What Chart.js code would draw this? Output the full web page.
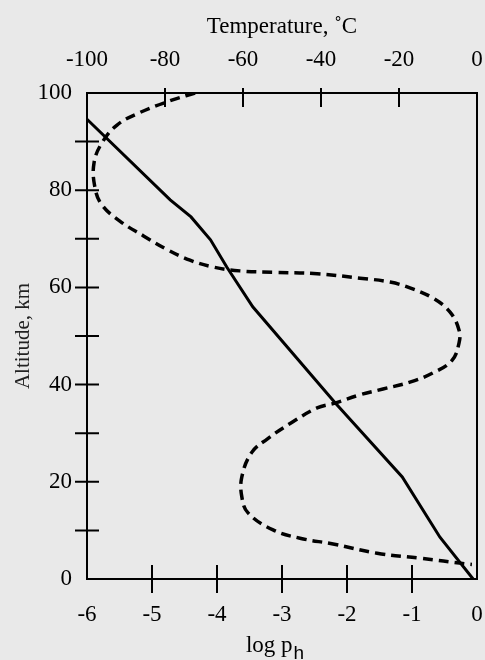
<!DOCTYPE html>
<html>
<head>
<meta charset="utf-8">
<script src="https://cdn.jsdelivr.net/npm/chart.js@4/dist/chart.umd.min.js"></script>
<style>
  html, body { margin: 0; padding: 0; background: #e9e9e9; }
  #wrap { width: 485px; height: 660px; }
</style>
</head>
<body>
<div id="wrap"><canvas id="c" width="485" height="660"></canvas></div>
<script>
// log p_h (bottom axis) vs altitude (km)
const logPh = [-6, -4.72, -4.4, -4.1, -3.85, -3.45, -2.18, -1.15, -0.57, -0.06];
const logPhAlt = [94.6, 78, 74.5, 69.8, 64.2, 56, 36.2, 21, 8.6, 0];

// temperature (top axis, °C) vs altitude (km)
const temperature = [-72.3, -78.7, -86.4, -92.3, -96.2, -98.2, -98.0, -96.2, -91.5, -85.5, -79.5, -73.6, -67.7, -60.8, -52, -41, -30, -22.3, -17.2, -11.3, -6.9, -4.6, -4.6, -6.4, -11.3, -17.2, -24.1, -30, -36.4, -41, -47.5, -53.8, -57.8, -60.3, -60.3, -58.7, -52.3, -45.4, -36.9, -25.6, -14.6, -2.6, -1.3];
const temperatureAlt = [100, 98.4, 96, 93.4, 89.7, 85.6, 80.7, 77, 73.6, 70.6, 67.8, 65.6, 64.2, 63.4, 63.1, 62.8, 61.9, 61.1, 59.9, 57.8, 54.9, 51.2, 48.6, 45, 42.4, 40.5, 39.1, 37.9, 36.2, 35.2, 32.2, 28.8, 26, 21, 16.9, 13.6, 10.1, 8.4, 7.2, 5.3, 4.3, 3.1, 3.0];

const logTicks = [-6, -5, -4, -3, -2, -1, 0];
const tempTicks = [-100, -80, -60, -40, -20, 0];
const altTicks = [0, 10, 20, 30, 40, 50, 60, 70, 80, 90, 100];
const altLabelled = [0, 20, 40, 60, 80, 100];

const FONT = "'Liberation Serif', 'Times New Roman', serif";

const solidData = logPh.map((v, i) => ({ x: v, y: logPhAlt[i] }));
const dashData = temperature.map((v, i) => ({ x: v, y: temperatureAlt[i] }));

const bgPlugin = {
  id: 'bg',
  beforeDraw(chart) {
    const ctx = chart.ctx;
    ctx.save();
    ctx.fillStyle = '#e9e9e9';
    ctx.fillRect(0, 0, chart.width, chart.height);
    ctx.restore();
  }
};

const framePlugin = {
  id: 'frame',
  afterDatasetsDraw(chart) {
    const { ctx, chartArea: a, scales } = chart;
    ctx.save();
    ctx.strokeStyle = '#000';
    ctx.lineWidth = 2;
    ctx.strokeRect(a.left, a.top, a.right - a.left, a.bottom - a.top);
    ctx.beginPath();
    altTicks.forEach(v => {
      if (v === 0 || v === 100) return;
      const y = scales.y.getPixelForValue(v);
      ctx.moveTo(a.left - 12, y); ctx.lineTo(a.left + 12, y);
    });
    logTicks.forEach(v => {
      if (v === -6 || v === 0) return;
      const x = scales.x.getPixelForValue(v);
      ctx.moveTo(x, a.bottom - 14); ctx.lineTo(x, a.bottom + 14);
    });
    tempTicks.forEach(v => {
      if (v === -100 || v === 0) return;
      const x = scales.x2.getPixelForValue(v);
      ctx.moveTo(x, a.top - 5); ctx.lineTo(x, a.top + 14);
    });
    ctx.stroke();

    // bottom axis title: log p with subscript h
    ctx.fillStyle = '#000';
    ctx.textBaseline = 'alphabetic';
    ctx.font = "23px " + FONT;
    const main = 'log p';
    const w1 = ctx.measureText(main).width;
    ctx.font = "19px 'Liberation Sans', Arial, sans-serif";
    const w2 = ctx.measureText('h').width;
    const cx = (a.left + a.right) / 2 - 7;
    const x0 = cx - (w1 + w2 + 1) / 2;
    ctx.font = "23px " + FONT;
    ctx.textAlign = 'left';
    ctx.fillText(main, x0, 652);
    ctx.font = "19px 'Liberation Sans', Arial, sans-serif";
    ctx.fillText('h', x0 + w1 + 1, 659);
    ctx.restore();
  }
};

new Chart(document.getElementById('c'), {
  type: 'scatter',
  data: {
    datasets: [
      {
        label: 'log p_h',
        data: solidData,
        xAxisID: 'x',
        yAxisID: 'y',
        showLine: true,
        borderColor: '#000',
        borderWidth: 3,
        pointRadius: 0,
        tension: 0,
        fill: false
      },
      {
        label: 'Temperature',
        data: dashData,
        xAxisID: 'x2',
        yAxisID: 'y',
        showLine: true,
        borderColor: '#000',
        borderWidth: 3.5,
        borderDash: [10, 6],
        pointRadius: 0,
        tension: 0.4,
        fill: false
      }
    ]
  },
  options: {
    responsive: false,
    animation: false,
    layout: { padding: { left: 0, right: 8, top: 0, bottom: 0 } },
    plugins: { legend: { display: false }, tooltip: { enabled: false } },
    scales: {
      x: {
        type: 'linear',
        position: 'bottom',
        min: -6, max: 0,
        afterBuildTicks: s => { s.ticks = logTicks.map(v => ({ value: v })); },
        ticks: { color: '#000', font: { family: FONT, size: 23 }, padding: 0, maxRotation: 0, autoSkip: false },
        grid: { display: true, drawOnChartArea: false, color: 'rgba(0,0,0,0)', tickLength: 22 },
        border: { display: false },
        afterFit: s => { s.height = 81; }
      },
      x2: {
        type: 'linear',
        position: 'top',
        min: -100, max: 0,
        afterBuildTicks: s => { s.ticks = tempTicks.map(v => ({ value: v })); },
        ticks: { color: '#000', font: { family: FONT, size: 23 }, padding: 0, maxRotation: 0, autoSkip: false },
        grid: { display: true, drawOnChartArea: false, color: 'rgba(0,0,0,0)', tickLength: 19 },
        border: { display: false },
        title: { display: true, text: 'Temperature, ˚C', color: '#000', font: { family: FONT, size: 23 }, padding: { top: 13, bottom: 0 } },
        afterFit: s => { s.height = 93; }
      },
      y: {
        type: 'linear',
        position: 'left',
        min: 0, max: 100,
        afterBuildTicks: s => { s.ticks = altTicks.map(v => ({ value: v })); },
        ticks: {
          color: '#000', font: { family: FONT, size: 23 }, padding: 3, autoSkip: false,
          callback: v => altLabelled.includes(v) ? String(v) : ''
        },
        grid: { display: true, drawOnChartArea: false, color: 'rgba(0,0,0,0)', tickLength: 12 },
        border: { display: false },
        title: { display: true, text: 'Altitude, km', color: '#222', font: { family: FONT, size: 21 }, padding: { top: 11, bottom: 0 } },
        afterFit: s => { s.width = 87; }
      }
    }
  },
  plugins: [bgPlugin, framePlugin]
});
</script>
</body>
</html>
